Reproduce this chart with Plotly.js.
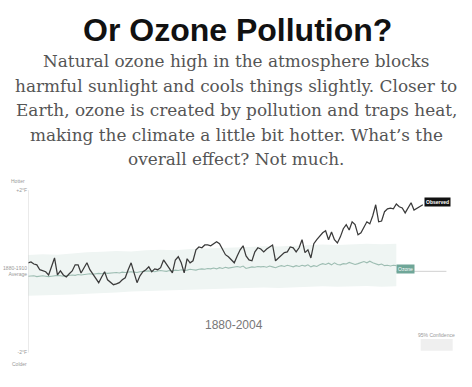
<!DOCTYPE html>
<html>
<head>
<meta charset="utf-8">
<script src="https://cdn.plot.ly/plotly-3.0.1.min.js"></script>
<style>
html,body{margin:0;padding:0;background:#fff;}
#chart{width:472px;height:387px;}
</style>
</head>
<body>
<div id="chart"></div>
<script>
// Observed temperature, °F relative to the 1880-1910 average, 1880-2014
const observedYears = [];
for (let y = 1880; y <= 2014; y++) observedYears.push(y);
const observed = [
  0.21, 0.23, 0.18, 0.16, 0.04, 0.01, -0.01, -0.09, 0.11, 0.33,
  -0.09, 0.01, -0.09, -0.14, -0.06, 0.01, 0.16, 0.16, -0.04, 0.09,
  0.21, 0.04, -0.06, -0.18, -0.28, -0.14, -0.01, -0.21, -0.28, -0.33,
  -0.31, -0.28, -0.21, -0.16, 0.04, 0.21, -0.04, -0.28, -0.11, -0.01,
  0.04, 0.11, -0.01, 0.06, 0.04, 0.09, 0.28, 0.18, 0.09, -0.04,
  0.28, 0.36, 0.21, -0.04, 0.31, 0.21, 0.26, 0.53, 0.60, 0.58,
  0.65, 0.65, 0.63, 0.68, 0.73, 0.68, 0.53, 0.41, 0.36, 0.28,
  0.21, 0.38, 0.53, 0.63, 0.38, 0.28, 0.26, 0.48, 0.58, 0.55,
  0.48, 0.55, 0.60, 0.65, 0.26, 0.33, 0.41, 0.46, 0.48, 0.60,
  0.58, 0.48, 0.58, 0.78, 0.46, 0.53, 0.33, 0.68, 0.78, 0.87,
  0.95, 1.00, 0.78, 0.97, 0.78, 0.70, 0.85, 1.05, 1.15, 1.02,
  1.22, 1.15, 0.90, 0.95, 1.07, 1.22, 1.17, 1.37, 1.64, 1.22,
  1.24, 1.47, 1.54, 1.56, 1.54, 1.66, 1.59, 1.56, 1.44, 1.56,
  1.69, 1.51, 1.56, 1.59, 1.64
];

// Ozone effect, °F, 1880-2005
const ozoneYears = [];
for (let y = 1880; y <= 2005; y++) ozoneYears.push(y);
const ozone = [
  -0.12, -0.12, -0.11, -0.13, -0.12, -0.11, -0.12, -0.13, -0.12, -0.11,
  -0.10, -0.11, -0.12, -0.11, -0.10, -0.09, -0.10, -0.08, -0.09, -0.08,
  -0.07, -0.06, -0.07, -0.06, -0.05, -0.06, -0.04, -0.05, -0.04, -0.03,
  -0.03, -0.04, -0.02, -0.03, -0.02, -0.01, -0.02, -0.03, -0.01, 0.00,
  0.00, 0.01, 0.00, -0.01, 0.01, 0.02, 0.01, 0.00, 0.02, 0.01,
  0.03, 0.02, 0.04, 0.02, 0.03, 0.05, 0.04, 0.03, 0.05, 0.06,
  0.05, 0.07, 0.06, 0.08, 0.06, 0.09, 0.07, 0.10, 0.08, 0.09,
  0.11, 0.12, 0.10, 0.13, 0.07, 0.09, 0.11, 0.10, 0.12, 0.11,
  0.12, 0.10, 0.13, 0.11, 0.09, 0.12, 0.14, 0.12, 0.15, 0.13,
  0.11, 0.14, 0.12, 0.15, 0.13, 0.16, 0.11, 0.14, 0.12, 0.16,
  0.19, 0.17, 0.20, 0.16, 0.21, 0.17, 0.16, 0.19, 0.18, 0.22,
  0.20, 0.17, 0.19, 0.22, 0.24, 0.21, 0.25, 0.21, 0.18, 0.16,
  0.18, 0.14, 0.15, 0.13, 0.15, 0.14
];

// 95% confidence band for ozone, every 5 years 1880-2005
const bandYears = [1880,1885,1890,1895,1900,1905,1910,1915,1920,1925,1930,1935,1940,1945,1950,1955,1960,1965,1970,1975,1980,1985,1990,1995,2000,2005];
const bandUpper = [0.40,0.42,0.41,0.44,0.47,0.48,0.50,0.49,0.52,0.53,0.52,0.55,0.56,0.57,0.59,0.60,0.62,0.61,0.63,0.64,0.66,0.65,0.67,0.68,0.67,0.68];
const bandLower = [-0.60,-0.59,-0.58,-0.57,-0.55,-0.53,-0.52,-0.50,-0.49,-0.47,-0.46,-0.45,-0.44,-0.43,-0.42,-0.41,-0.40,-0.41,-0.39,-0.38,-0.37,-0.38,-0.37,-0.36,-0.38,-0.37];

const yTickVals = [2, 0, -2];
const yTickText = ['+2°F', '1880-1910<br>Average', '-2°F'];

const subtitleLines = [
  'Natural ozone high in the atmosphere blocks',
  'harmful sunlight and cools things slightly. Closer to',
  'Earth, ozone is created by pollution and traps heat,',
  'making the climate a little bit hotter. What’s the',
  'overall effect? Not much.'
];

const sans = 'Liberation Sans, Arial, sans-serif';
const serif = 'DejaVu Serif, Georgia, serif';

// pixel helpers for paper coordinates (plot area: left 28, width 442, top 178, height 183)
const px = v => (v - 28) / 442;
const py = v => (361 - v) / 183;

const traces = [
  {
    x: bandYears.concat(bandYears.slice().reverse()),
    y: bandUpper.concat(bandLower.slice().reverse()),
    type: 'scatter', mode: 'lines', fill: 'toself',
    fillcolor: '#eff5f3', line: {width: 0}, hoverinfo: 'skip'
  },
  {
    x: ozoneYears, y: ozone, type: 'scatter', mode: 'lines',
    line: {color: '#9dbdb2', width: 1.1}
  },
  {
    x: observedYears, y: observed, type: 'scatter', mode: 'lines',
    line: {color: '#3a3a3a', width: 1.25}
  }
];

const annotations = [
  {text: '<b>Or Ozone Pollution?</b>', xref: 'paper', yref: 'paper',
   x: px(237), y: py(30), xanchor: 'center', yanchor: 'middle', showarrow: false,
   font: {family: sans, size: 32, color: '#111'}},
  {text: '1880-2004', xref: 'paper', yref: 'paper', x: px(233.5), y: py(325),
   xanchor: 'center', yanchor: 'middle', showarrow: false,
   font: {family: sans, size: 12, color: '#777'}},
  {text: 'Hotter', xref: 'paper', yref: 'paper', x: px(27), y: py(181),
   xanchor: 'right', yanchor: 'middle', showarrow: false,
   font: {family: sans, size: 5, color: '#999'}},
  {text: 'Colder', xref: 'paper', yref: 'paper', x: px(29), y: py(364),
   xanchor: 'right', yanchor: 'middle', showarrow: false,
   font: {family: sans, size: 5, color: '#999'}},
  {text: '<b>Observed</b>', xref: 'x', yref: 'y', x: 2014, y: 1.64,
   xanchor: 'left', yanchor: 'middle', xshift: 1, yshift: 3, showarrow: false,
   bgcolor: '#111', borderpad: 1, font: {family: sans, size: 5, color: '#fff'}},
  {text: 'Ozone', xref: 'x', yref: 'y', x: 2005, y: 0.06,
   xanchor: 'left', yanchor: 'middle', showarrow: false,
   bgcolor: '#6fa698', borderpad: 1, font: {family: sans, size: 5, color: '#fff'}},
  {text: '95% Confidence', xref: 'paper', yref: 'paper', x: px(436), y: py(335),
   xanchor: 'center', yanchor: 'middle', showarrow: false,
   font: {family: sans, size: 5, color: '#999'}}
];
const lineCenters = [61, 85.5, 110, 134.5, 159];
subtitleLines.forEach((t, i) => annotations.push({
  text: t, xref: 'paper', yref: 'paper', x: px(236), y: py(lineCenters[i]),
  xanchor: 'center', yanchor: 'middle', showarrow: false,
  font: {family: serif, size: 16.9, color: '#555'}
}));

const layout = {
  width: 472, height: 387,
  margin: {l: 28, r: 2, t: 178, b: 26},
  paper_bgcolor: '#fff', plot_bgcolor: '#fff',
  showlegend: false,
  xaxis: {range: [1880, 2030], visible: false, fixedrange: true},
  yaxis: {
    range: [-2.21, 2.3], showgrid: false, zeroline: false, showline: false,
    tickvals: yTickVals, ticktext: yTickText, ticks: '',
    tickfont: {family: sans, size: 5, color: '#999'}
  },
  shapes: [
    {type: 'line', xref: 'x', yref: 'y', x0: 1880, x1: 2022, y0: 0, y1: 0,
     line: {color: '#d0d0d0', width: 1}, layer: 'below'},
    {type: 'line', xref: 'x', yref: 'y', x0: 1880, x1: 1880, y0: -2, y1: 2,
     line: {color: '#d6d6d6', width: 1}},
    {type: 'rect', xref: 'paper', yref: 'paper', x0: px(420.7), x1: px(452.7), y0: py(350.7), y1: py(339),
     fillcolor: '#efefef', line: {width: 0}}
  ],
  annotations: annotations
};

Plotly.newPlot('chart', traces, layout, {displayModeBar: false, staticPlot: true});
</script>
</body>
</html>
